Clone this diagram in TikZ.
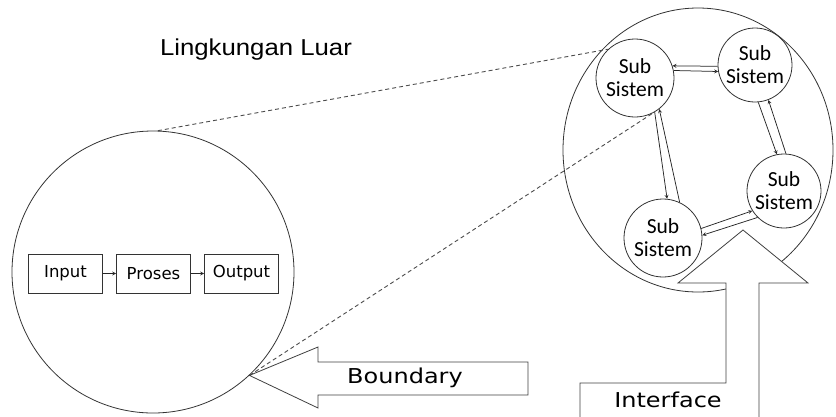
\documentclass[tikz,border=0pt]{standalone}
\usepackage{fontspec}
\setmainfont{DejaVu Sans}
\newfontfamily\calibri{Carlito}
\newfontfamily\arial{Liberation Sans}
\usetikzlibrary{shapes.geometric,arrows}

\begin{document}
\begin{tikzpicture}[x=1pt,y=-1pt]
  \tikzstyle{proc} = [rectangle,minimum height=39pt,minimum
  width=74pt,font=\fontsize{16.5}{18}\selectfont,draw=black!80,line width=0.8pt]
  \tikzstyle{subsys} = [circle,align=center,inner sep=0pt,
  font=\calibri\fontsize{21.5}{23}\selectfont,draw=black!80,line width=0.8pt]
  \tikzstyle{wide} = [transform shape,xscale=1.17,font=\fontsize{20.5}{24}\selectfont]
  \tikzstyle{ref} =[->, >=stealth,line width=0.75pt,black!85]
  \tikzstyle{zoomline} = [dash pattern=on 4pt off 3pt,line width=0.9pt,black!70]
  \tikzstyle{block} = [draw=black!75,fill=white,line width=0.8pt]

  \useasboundingbox (0,0) rectangle (836,416);

  \node[name=title,transform shape,xscale=1.12,
  font=\arial\fontsize{23}{26}\selectfont] at (256,50) {Lingkungan Luar};

  % lingkungan / sistem kiri
  \node[circle,draw=black!80,line width=0.8pt,minimum size=282pt,name=lkgn] at (153,272) {};
  \node[proc,name=inp] at (65.5,273.5) {Input};
  \node[proc,right of=inp,node distance=88pt,name=pros] {Proses};
  \node[proc,right of=pros,node distance=88pt,name=outp] {Output};
  \path (inp) edge[ref] (pros);
  \path (pros) edge[ref] (outp);

  % sistem kanan
  \node[ellipse,draw=black!80,line width=0.8pt,minimum width=270pt,
  minimum height=284pt,name=big] at (698,150) {};

  % interface
  \draw[block] (580,420) -- (580,383) -- (726,383) -- (726,283) -- (678,283)
  -- (743,230) -- (808,283) -- (759,283) -- (759,420);
  \node[wide,name=iface] at (668,400) {Interface};

  \node[subsys,minimum size=78pt,name=tl] at (635,78) {Sub\\Sistem};
  \node[subsys,minimum size=74pt,name=tr] at (755,65) {Sub\\Sistem};
  \node[subsys,minimum size=74pt,name=br] at (784,191) {Sub\\Sistem};
  \node[subsys,minimum size=78pt,name=bl] at (663,238) {Sub\\Sistem};

  \path (tl.11) edge[ref] (tr.190);
  \path (tr.182) edge[ref] (tl.18);
  \path (tr.-85) edge[ref] (br.101);
  \path (br.87) edge[ref] (tr.-69);
  \path (tl.-60) edge[ref] (bl.84);
  \path (bl.65) edge[ref] (tl.-52);
  \path (bl.14) edge[ref] (br.212);
  \path (br.225) edge[ref] (bl.4);

  % garis zoom
  \draw[zoomline] (lkgn.88) -- (tl.133);
  \draw[zoomline] (lkgn.-47) -- (tl.-63);

  % boundary
  \draw[block] (lkgn.-47) -- (318,347) -- (318,362) -- (528,362) -- (528,395)
  -- (318,395) -- (318,408) -- cycle;
  \node[wide,name=bnd] at (405,378) {Boundary};

\end{tikzpicture}
\end{document}
